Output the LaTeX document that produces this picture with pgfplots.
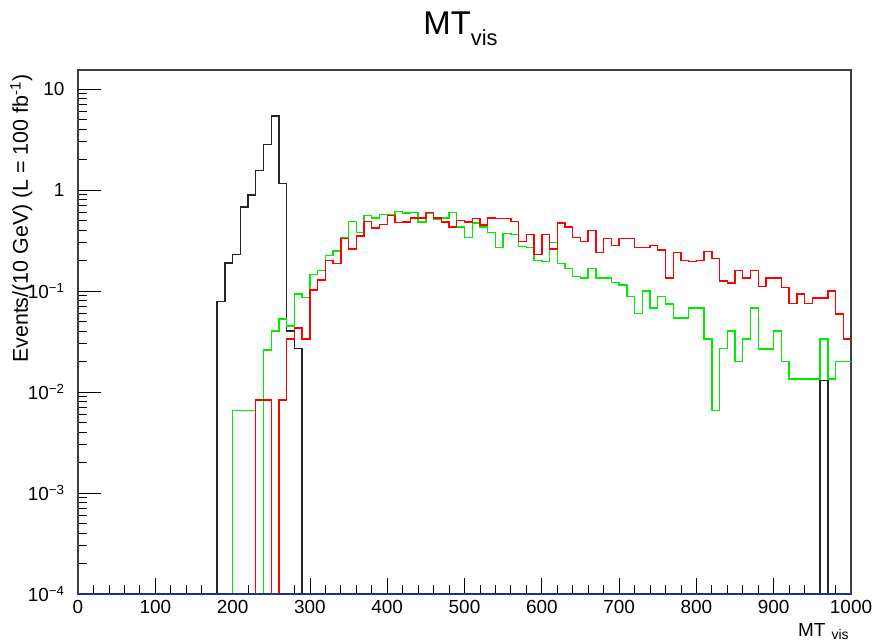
\documentclass[border=0pt]{standalone}
\usepackage{pgfplots}
\pgfplotsset{compat=1.18}
\usepackage{fontspec}
\setmainfont{Liberation Sans}
\definecolor{hred}{RGB}{255,0,0}
\definecolor{hgreen}{RGB}{0,235,0}
\definecolor{hblue}{RGB}{30,50,150}
\begin{document}
\begin{tikzpicture}
\begin{axis}[name=ax, scale only axis, width=773bp, height=524bp,
  xmin=0, xmax=1000, ymode=log, ymin=1e-4, ymax=15.4,
  axis line style={line width=1.1bp, black!75},
  xtick={0,100,...,1000},
  xticklabels={0,100,200,300,400,500,600,700,800,900,1000},
  minor x tick num=4,
  ytick={1e-4,1e-3,1e-2,1e-1,1,10},
  yticklabels={10\textsuperscript{−4},10\textsuperscript{−3},10\textsuperscript{−2},10\textsuperscript{−1},1,10},
  minor ytick={2e-4,3e-4,4e-4,5e-4,6e-4,7e-4,8e-4,9e-4,
               2e-3,3e-3,4e-3,5e-3,6e-3,7e-3,8e-3,9e-3,
               2e-2,3e-2,4e-2,5e-2,6e-2,7e-2,8e-2,9e-2,
               0.2,0.3,0.4,0.5,0.6,0.7,0.8,0.9,
               2,3,4,5,6,7,8,9},
  extra y ticks={1e-4,1e-3,1e-2,1e-1,1,10},
  extra y tick labels={},
  extra y tick style={major tick length=23bp},
  tick align=inside, xtick pos=bottom, ytick pos=left,
  major tick length=16bp, minor tick length=9bp,
  tick style={black, line width=0.8bp},
  tick label style={font=\fontsize{19}{21}\selectfont},
  xticklabel style={yshift=-3bp},
  yticklabel style={xshift=-10bp},
  every axis plot/.append style={const plot mark left, no marks, line width=1.4bp},
]
\addplot[black!85] coordinates {(170,1e-6)(180,0.079)(190,0.19)(200,0.23)(210,0.68)(220,0.89)(230,1.55)(240,2.8)(250,5.4)(260,1.16)(270,0.040)(280,0.027)(290,1e-6)(950,1e-6)(960,0.013)(970,1e-6)(1000,1e-6)};
\addplot[hgreen] coordinates {(190,1e-6)(200,0.0066)(210,0.0066)(220,0.0066)(230,1e-6)(240,0.026)(250,0.040)(260,0.053)(270,0.045)(280,0.093)(290,0.086)(300,0.146)(310,0.16)(320,0.224)(330,0.249)(340,0.34)(350,0.485)(360,0.38)(370,0.56)(380,0.53)(390,0.575)(400,0.575)(410,0.61)(420,0.59)(430,0.60)(440,0.48)(450,0.59)(460,0.51)(470,0.53)(480,0.60)(490,0.43)(500,0.34)(510,0.47)(520,0.43)(530,0.38)(540,0.27)(550,0.37)(560,0.36)(570,0.275)(580,0.27)(590,0.20)(600,0.195)(610,0.30)(620,0.186)(630,0.168)(640,0.14)(650,0.134)(660,0.168)(670,0.134)(680,0.135)(690,0.122)(700,0.115)(710,0.088)(720,0.060)(730,0.10)(740,0.068)(750,0.088)(760,0.074)(770,0.054)(780,0.054)(790,0.068)(800,0.068)(810,0.0335)(820,0.0066)(830,0.027)(840,0.040)(850,0.020)(860,0.0335)(870,0.068)(880,0.0267)(890,0.0267)(900,0.040)(910,0.020)(920,0.0134)(930,0.0134)(940,0.0134)(950,0.0134)(960,0.0335)(970,0.0134)(980,0.020)(990,0.020)(1000,0.020)};
\addplot[hred] coordinates {(220,1e-6)(230,0.0083)(240,0.0083)(250,1e-6)(260,0.0083)(270,0.0335)(280,0.043)(290,0.0335)(300,0.102)(310,0.128)(320,0.20)(330,0.186)(340,0.33)(350,0.26)(360,0.35)(370,0.485)(380,0.42)(390,0.455)(400,0.56)(410,0.474)(420,0.48)(430,0.53)(440,0.53)(450,0.60)(460,0.53)(470,0.48)(480,0.43)(490,0.50)(500,0.48)(510,0.525)(520,0.45)(530,0.53)(540,0.525)(550,0.525)(560,0.49)(570,0.31)(580,0.36)(590,0.23)(600,0.36)(610,0.26)(620,0.47)(630,0.43)(640,0.34)(650,0.31)(660,0.395)(670,0.24)(680,0.33)(690,0.28)(700,0.33)(710,0.33)(720,0.27)(730,0.27)(740,0.28)(750,0.255)(760,0.135)(770,0.24)(780,0.20)(790,0.195)(800,0.20)(810,0.245)(820,0.21)(830,0.126)(840,0.12)(850,0.16)(860,0.135)(870,0.16)(880,0.11)(890,0.134)(900,0.134)(910,0.108)(920,0.075)(930,0.093)(940,0.075)(950,0.085)(960,0.085)(970,0.10)(980,0.059)(990,0.0335)(1000,0.0335)};
\addplot[hblue, line width=1.6bp] coordinates {(0,1e-4)(1000,1e-4)};
\end{axis}
\node[anchor=base, font=\fontsize{33}{36}\selectfont] at ([yshift=35bp,xshift=-4bp]ax.north) {MT\raisebox{-11bp}{\fontsize{22}{24}\selectfont vis}};
\node[anchor=base east, rotate=90, font=\fontsize{21.5}{23}\selectfont] at ([xshift=-50bp,yshift=-1bp]ax.north west) {Events/(10 GeV) (L = 100 fb\textsuperscript{-1})};
\node[anchor=base east, font=\fontsize{19}{21}\selectfont] at ([yshift=-42bp,xshift=-22bp]ax.south east) {MT};
\node[anchor=base west, font=\fontsize{14}{15}\selectfont] at ([yshift=-45bp,xshift=-23bp]ax.south east) {vis};
\pgfresetboundingbox
\path[use as bounding box] (ax.south west) ++(-78bp,-47bp) rectangle ++(875bp,641bp);
\end{tikzpicture}
\end{document}
